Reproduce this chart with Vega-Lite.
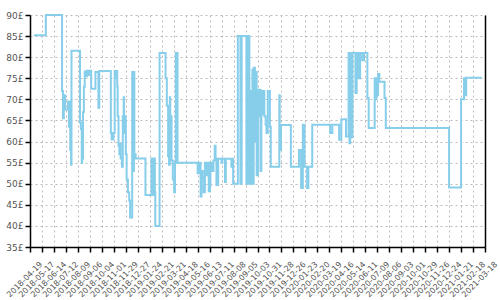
{
  "$schema": "https://vega.github.io/schema/vega-lite/v6.json",
  "width": 455,
  "height": 232,
  "autosize": {"type": "none"},
  "padding": {"left": 30, "top": 15, "right": 15, "bottom": 53},
  "background": "white",
  "config": {
    "view": {"stroke": null},
    "axis": {
      "domainColor": "#000000",
      "domainWidth": 1.5,
      "tickColor": "#000000",
      "tickWidth": 1.5,
      "tickSize": 5,
      "labelColor": "#555555",
      "labelFont": "DejaVu Sans",
      "labelFontSize": 8,
      "gridColor": "#bbbbbb",
      "gridDash": [2, 3],
      "gridWidth": 1,
      "title": null
    }
  },
  "data": {
    "values": [
      {"date": "2018-04-28", "price": 85.2},
      {"date": "2018-05-26", "price": 90},
      {"date": "2018-07-03", "price": 72},
      {"date": "2018-07-05", "price": 65.5},
      {"date": "2018-07-07", "price": 71},
      {"date": "2018-07-10", "price": 67.6},
      {"date": "2018-07-17", "price": 69.5},
      {"date": "2018-07-19", "price": 63.5},
      {"date": "2018-07-21", "price": 69.5},
      {"date": "2018-07-22", "price": 58},
      {"date": "2018-07-23", "price": 64},
      {"date": "2018-07-24", "price": 54.5},
      {"date": "2018-07-25", "price": 81.5},
      {"date": "2018-08-14", "price": 64.5},
      {"date": "2018-08-16", "price": 63},
      {"date": "2018-08-18", "price": 55},
      {"date": "2018-08-19", "price": 56},
      {"date": "2018-08-21", "price": 67},
      {"date": "2018-08-23", "price": 73},
      {"date": "2018-08-25", "price": 76.6},
      {"date": "2018-08-28", "price": 75.5},
      {"date": "2018-08-30", "price": 76.8},
      {"date": "2018-09-01", "price": 75.8},
      {"date": "2018-09-04", "price": 76.8},
      {"date": "2018-09-09", "price": 72.5},
      {"date": "2018-09-19", "price": 76.5},
      {"date": "2018-09-26", "price": 68},
      {"date": "2018-09-28", "price": 76.7},
      {"date": "2018-10-25", "price": 62},
      {"date": "2018-10-27", "price": 60.5},
      {"date": "2018-10-31", "price": 62},
      {"date": "2018-11-03", "price": 76.7},
      {"date": "2018-11-06", "price": 75},
      {"date": "2018-11-07", "price": 76.7},
      {"date": "2018-11-09", "price": 73},
      {"date": "2018-11-10", "price": 66},
      {"date": "2018-11-12", "price": 59},
      {"date": "2018-11-14", "price": 57},
      {"date": "2018-11-16", "price": 59.5},
      {"date": "2018-11-17", "price": 56},
      {"date": "2018-11-20", "price": 54},
      {"date": "2018-11-22", "price": 66},
      {"date": "2018-11-24", "price": 70.5},
      {"date": "2018-11-25", "price": 62},
      {"date": "2018-11-27", "price": 66},
      {"date": "2018-11-29", "price": 57},
      {"date": "2018-12-01", "price": 51},
      {"date": "2018-12-04", "price": 48},
      {"date": "2018-12-07", "price": 46},
      {"date": "2018-12-09", "price": 42},
      {"date": "2018-12-14", "price": 76.5},
      {"date": "2018-12-16", "price": 53},
      {"date": "2018-12-18", "price": 76.5},
      {"date": "2018-12-19", "price": 57},
      {"date": "2018-12-22", "price": 56},
      {"date": "2019-01-14", "price": 47.3},
      {"date": "2019-01-28", "price": 56},
      {"date": "2019-01-29", "price": 47.3},
      {"date": "2019-01-31", "price": 56},
      {"date": "2019-02-02", "price": 47.3},
      {"date": "2019-02-03", "price": 56},
      {"date": "2019-02-05", "price": 48},
      {"date": "2019-02-06", "price": 40},
      {"date": "2019-02-16", "price": 81},
      {"date": "2019-03-02", "price": 75},
      {"date": "2019-03-05", "price": 68.5},
      {"date": "2019-03-08", "price": 56.5},
      {"date": "2019-03-10", "price": 54.5},
      {"date": "2019-03-12", "price": 70.5},
      {"date": "2019-03-13", "price": 66},
      {"date": "2019-03-16", "price": 55.5},
      {"date": "2019-03-19", "price": 51},
      {"date": "2019-03-22", "price": 48},
      {"date": "2019-03-24", "price": 55},
      {"date": "2019-03-26", "price": 81},
      {"date": "2019-03-30", "price": 55},
      {"date": "2019-05-16", "price": 52.5},
      {"date": "2019-05-19", "price": 55},
      {"date": "2019-05-23", "price": 47},
      {"date": "2019-05-25", "price": 53},
      {"date": "2019-05-28", "price": 51.5},
      {"date": "2019-05-30", "price": 48},
      {"date": "2019-06-02", "price": 55},
      {"date": "2019-06-05", "price": 52},
      {"date": "2019-06-07", "price": 55},
      {"date": "2019-06-11", "price": 48.2},
      {"date": "2019-06-14", "price": 49.5},
      {"date": "2019-06-15", "price": 55},
      {"date": "2019-06-19", "price": 53},
      {"date": "2019-06-22", "price": 55.5},
      {"date": "2019-06-25", "price": 59},
      {"date": "2019-06-27", "price": 56},
      {"date": "2019-06-29", "price": 49.7},
      {"date": "2019-07-03", "price": 55.9},
      {"date": "2019-07-11", "price": 55},
      {"date": "2019-07-13", "price": 55.9},
      {"date": "2019-07-19", "price": 50.4},
      {"date": "2019-07-21", "price": 55.9},
      {"date": "2019-08-03", "price": 54},
      {"date": "2019-08-05", "price": 55.9},
      {"date": "2019-08-07", "price": 50},
      {"date": "2019-08-18", "price": 85},
      {"date": "2019-08-24", "price": 50},
      {"date": "2019-08-27", "price": 85},
      {"date": "2019-09-07", "price": 50},
      {"date": "2019-09-10", "price": 85},
      {"date": "2019-09-14", "price": 50},
      {"date": "2019-09-17", "price": 72},
      {"date": "2019-09-19", "price": 50},
      {"date": "2019-09-21", "price": 77},
      {"date": "2019-09-23", "price": 50},
      {"date": "2019-09-24", "price": 77.5},
      {"date": "2019-09-27", "price": 60},
      {"date": "2019-09-28", "price": 76.5},
      {"date": "2019-10-01", "price": 52},
      {"date": "2019-10-04", "price": 72.3},
      {"date": "2019-10-06", "price": 66},
      {"date": "2019-10-08", "price": 72.3},
      {"date": "2019-10-10", "price": 53},
      {"date": "2019-10-12", "price": 72},
      {"date": "2019-10-15", "price": 66.5},
      {"date": "2019-10-17", "price": 72},
      {"date": "2019-10-19", "price": 66},
      {"date": "2019-10-22", "price": 64},
      {"date": "2019-10-24", "price": 62},
      {"date": "2019-10-27", "price": 72},
      {"date": "2019-11-01", "price": 63.5},
      {"date": "2019-11-03", "price": 54},
      {"date": "2019-11-23", "price": 71},
      {"date": "2019-11-24", "price": 58},
      {"date": "2019-11-27", "price": 63.9},
      {"date": "2019-12-20", "price": 54},
      {"date": "2020-01-08", "price": 58},
      {"date": "2020-01-13", "price": 49},
      {"date": "2020-01-17", "price": 64},
      {"date": "2020-01-21", "price": 54},
      {"date": "2020-01-27", "price": 49},
      {"date": "2020-01-30", "price": 54},
      {"date": "2020-02-08", "price": 64},
      {"date": "2020-03-21", "price": 62},
      {"date": "2020-03-26", "price": 64},
      {"date": "2020-04-11", "price": 60.4},
      {"date": "2020-04-16", "price": 65.3},
      {"date": "2020-04-27", "price": 61.2},
      {"date": "2020-05-03", "price": 81},
      {"date": "2020-05-05", "price": 59.6},
      {"date": "2020-05-07", "price": 81},
      {"date": "2020-05-09", "price": 61},
      {"date": "2020-05-12", "price": 81},
      {"date": "2020-05-19", "price": 71.5},
      {"date": "2020-05-22", "price": 81},
      {"date": "2020-05-26", "price": 75},
      {"date": "2020-05-30", "price": 81},
      {"date": "2020-06-04", "price": 79.3},
      {"date": "2020-06-08", "price": 81},
      {"date": "2020-06-16", "price": 70.3},
      {"date": "2020-06-19", "price": 63.2},
      {"date": "2020-07-03", "price": 75},
      {"date": "2020-07-05", "price": 70},
      {"date": "2020-07-07", "price": 75},
      {"date": "2020-07-09", "price": 71},
      {"date": "2020-07-11", "price": 76},
      {"date": "2020-07-14", "price": 74.2},
      {"date": "2020-07-26", "price": 70.3},
      {"date": "2020-07-29", "price": 63.2},
      {"date": "2020-12-24", "price": 49.1},
      {"date": "2021-01-21", "price": 70},
      {"date": "2021-01-28", "price": 75},
      {"date": "2021-01-30", "price": 71},
      {"date": "2021-02-02", "price": 75.1},
      {"date": "2021-03-10", "price": 75.1}
    ]
  },
  "encoding": {
    "x": {
      "field": "date",
      "type": "temporal",
      "scale": {
        "type": "utc",
        "domain": [
          {"year": 2018, "month": 4, "date": 19, "utc": true},
          {"year": 2021, "month": 3, "date": 18, "utc": true}
        ]
      },
      "axis": {
        "labelAngle": -45,
        "labelAlign": "right",
        "labelBaseline": "middle",
        "labelOffset": 11,
        "labelPadding": 11,
        "labelExpr": "utcFormat(datum.value, '%Y-%m-%d')",
        "values": [
          {"year": 2018, "month": 4, "date": 19, "utc": true},
          {"year": 2018, "month": 5, "date": 17, "utc": true},
          {"year": 2018, "month": 6, "date": 14, "utc": true},
          {"year": 2018, "month": 7, "date": 12, "utc": true},
          {"year": 2018, "month": 8, "date": 9, "utc": true},
          {"year": 2018, "month": 9, "date": 6, "utc": true},
          {"year": 2018, "month": 10, "date": 4, "utc": true},
          {"year": 2018, "month": 11, "date": 1, "utc": true},
          {"year": 2018, "month": 11, "date": 29, "utc": true},
          {"year": 2018, "month": 12, "date": 27, "utc": true},
          {"year": 2019, "month": 1, "date": 24, "utc": true},
          {"year": 2019, "month": 2, "date": 21, "utc": true},
          {"year": 2019, "month": 3, "date": 21, "utc": true},
          {"year": 2019, "month": 4, "date": 18, "utc": true},
          {"year": 2019, "month": 5, "date": 16, "utc": true},
          {"year": 2019, "month": 6, "date": 13, "utc": true},
          {"year": 2019, "month": 7, "date": 11, "utc": true},
          {"year": 2019, "month": 8, "date": 8, "utc": true},
          {"year": 2019, "month": 9, "date": 5, "utc": true},
          {"year": 2019, "month": 10, "date": 3, "utc": true},
          {"year": 2019, "month": 10, "date": 31, "utc": true},
          {"year": 2019, "month": 11, "date": 28, "utc": true},
          {"year": 2019, "month": 12, "date": 26, "utc": true},
          {"year": 2020, "month": 1, "date": 23, "utc": true},
          {"year": 2020, "month": 2, "date": 20, "utc": true},
          {"year": 2020, "month": 3, "date": 19, "utc": true},
          {"year": 2020, "month": 4, "date": 16, "utc": true},
          {"year": 2020, "month": 5, "date": 14, "utc": true},
          {"year": 2020, "month": 6, "date": 11, "utc": true},
          {"year": 2020, "month": 7, "date": 9, "utc": true},
          {"year": 2020, "month": 8, "date": 6, "utc": true},
          {"year": 2020, "month": 9, "date": 3, "utc": true},
          {"year": 2020, "month": 10, "date": 1, "utc": true},
          {"year": 2020, "month": 10, "date": 29, "utc": true},
          {"year": 2020, "month": 11, "date": 26, "utc": true},
          {"year": 2020, "month": 12, "date": 24, "utc": true},
          {"year": 2021, "month": 1, "date": 21, "utc": true},
          {"year": 2021, "month": 2, "date": 18, "utc": true},
          {"year": 2021, "month": 3, "date": 18, "utc": true}
        ],
        "labelOverlap": false
      }
    },
    "y": {
      "field": "price",
      "type": "quantitative",
      "scale": {"domain": [35, 90], "nice": false, "zero": false},
      "axis": {
        "values": [35, 40, 45, 50, 55, 60, 65, 70, 75, 80, 85, 90],
        "labelExpr": "datum.value + '£'",
        "labelFontSize": 9
      }
    }
  },
  "layer": [
    {
      "mark": {"type": "line", "interpolate": "step-after", "color": "#87CEEB", "strokeWidth": 2}
    },
    {
      "mark": {"type": "line", "interpolate": "step-after", "opacity": 0},
      "encoding": {
        "y": {
          "field": "price",
          "type": "quantitative",
          "axis": {"orient": "right", "labels": false, "ticks": false, "grid": false, "domainColor": "#000000"}
        }
      }
    }
  ],
  "resolve": {"axis": {"y": "independent"}}
}
